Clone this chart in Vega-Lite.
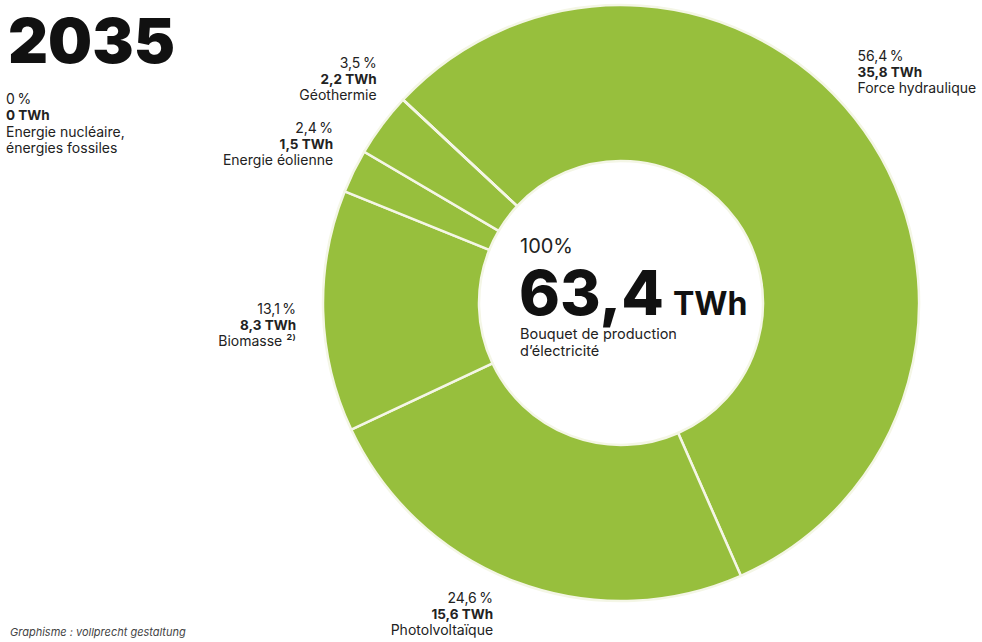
{
  "$schema": "https://vega.github.io/schema/vega-lite/v6.json",
  "width": 596,
  "height": 596,
  "autosize": {"type": "none"},
  "padding": {"left": 323, "top": 5, "right": 63, "bottom": 41},
  "background": "#ffffff",
  "title": {"text": "2035", "anchor": "start", "frame": "group", "fontSize": 62, "fontWeight": 900, "font": "Inter", "color": "#111111", "dx": -315, "dy": 80, "offset": 4},
  "data": {
    "values": [
      {"source": "Force hydraulique", "pct": 0.564, "twh": 35.8, "rank": 1},
      {"source": "Photolvoltaïque", "pct": 0.246, "twh": 15.6, "rank": 2},
      {"source": "Biomasse ²⁾", "pct": 0.131, "twh": 8.3, "rank": 3},
      {"source": "Energie éolienne", "pct": 0.024, "twh": 1.5, "rank": 4},
      {"source": "Géothermie", "pct": 0.035, "twh": 2.2, "rank": 5},
      {"source": "Energie nucléaire,\nénergies fossiles", "pct": 0, "twh": 0, "rank": 6}
    ]
  },
  "layer": [
    {
      "mark": {"type": "arc", "innerRadius": 142, "outerRadius": 298, "fill": "#97bf3d", "stroke": "#f4f6e6", "strokeWidth": 2.5},
      "encoding": {
        "theta": {"field": "twh", "type": "quantitative", "stack": true, "scale": {"range": [-0.8203, 5.4629]}},
        "order": {"field": "rank", "type": "quantitative"},
        "detail": {"field": "source", "type": "nominal"}
      }
    },
    {
      "mark": {"type": "text", "radius": 290, "align": "left", "baseline": "middle", "dy": -78, "fontSize": 14, "font": "Inter", "color": "#222222"},
      "encoding": {
        "theta": {"field": "twh", "type": "quantitative", "stack": true},
        "order": {"field": "rank", "type": "quantitative"},
        "detail": {"field": "source", "type": "nominal"},
        "text": {"field": "pct", "type": "quantitative", "format": ".1~%", "condition": {"test": "datum.rank !== 1", "value": ""}}
      }
    },
    {
      "mark": {"type": "text", "radius": 290, "align": "left", "baseline": "middle", "dy": -62, "fontSize": 13.5, "fontWeight": 700, "font": "Inter", "color": "#222222"},
      "encoding": {
        "theta": {"field": "twh", "type": "quantitative", "stack": true},
        "order": {"field": "rank", "type": "quantitative"},
        "detail": {"field": "source", "type": "nominal"},
        "text": {"field": "twh", "type": "quantitative", "format": "$.1~f", "condition": {"test": "datum.rank !== 1", "value": ""}}
      }
    },
    {
      "mark": {"type": "text", "radius": 290, "align": "left", "baseline": "middle", "dy": -46, "fontSize": 14, "font": "Inter", "color": "#222222"},
      "encoding": {
        "theta": {"field": "twh", "type": "quantitative", "stack": true},
        "order": {"field": "rank", "type": "quantitative"},
        "detail": {"field": "source", "type": "nominal"},
        "text": {"field": "source", "type": "nominal", "condition": {"test": "datum.rank !== 1", "value": ""}}
      }
    },
    {
      "mark": {"type": "text", "radius": 364, "align": "right", "baseline": "middle", "dy": -45, "fontSize": 14, "font": "Inter", "color": "#222222"},
      "encoding": {
        "theta": {"field": "twh", "type": "quantitative", "stack": true},
        "order": {"field": "rank", "type": "quantitative"},
        "detail": {"field": "source", "type": "nominal"},
        "text": {"field": "pct", "type": "quantitative", "format": ".1~%", "condition": {"test": "datum.rank !== 2", "value": ""}}
      }
    },
    {
      "mark": {"type": "text", "radius": 364, "align": "right", "baseline": "middle", "dy": -29, "fontSize": 13.5, "fontWeight": 700, "font": "Inter", "color": "#222222"},
      "encoding": {
        "theta": {"field": "twh", "type": "quantitative", "stack": true},
        "order": {"field": "rank", "type": "quantitative"},
        "detail": {"field": "source", "type": "nominal"},
        "text": {"field": "twh", "type": "quantitative", "format": "$.1~f", "condition": {"test": "datum.rank !== 2", "value": ""}}
      }
    },
    {
      "mark": {"type": "text", "radius": 364, "align": "right", "baseline": "middle", "dy": -13, "fontSize": 14, "font": "Inter", "color": "#222222"},
      "encoding": {
        "theta": {"field": "twh", "type": "quantitative", "stack": true},
        "order": {"field": "rank", "type": "quantitative"},
        "detail": {"field": "source", "type": "nominal"},
        "text": {"field": "source", "type": "nominal", "condition": {"test": "datum.rank !== 2", "value": ""}}
      }
    },
    {
      "mark": {"type": "text", "radius": 325, "align": "right", "baseline": "middle", "dy": -2, "fontSize": 14, "font": "Inter", "color": "#222222"},
      "encoding": {
        "theta": {"field": "twh", "type": "quantitative", "stack": true},
        "order": {"field": "rank", "type": "quantitative"},
        "detail": {"field": "source", "type": "nominal"},
        "text": {"field": "pct", "type": "quantitative", "format": ".1~%", "condition": {"test": "datum.rank !== 3", "value": ""}}
      }
    },
    {
      "mark": {"type": "text", "radius": 325, "align": "right", "baseline": "middle", "dy": 14, "fontSize": 13.5, "fontWeight": 700, "font": "Inter", "color": "#222222"},
      "encoding": {
        "theta": {"field": "twh", "type": "quantitative", "stack": true},
        "order": {"field": "rank", "type": "quantitative"},
        "detail": {"field": "source", "type": "nominal"},
        "text": {"field": "twh", "type": "quantitative", "format": "$.1~f", "condition": {"test": "datum.rank !== 3", "value": ""}}
      }
    },
    {
      "mark": {"type": "text", "radius": 325, "align": "right", "baseline": "middle", "dy": 30, "fontSize": 14, "font": "Inter", "color": "#222222"},
      "encoding": {
        "theta": {"field": "twh", "type": "quantitative", "stack": true},
        "order": {"field": "rank", "type": "quantitative"},
        "detail": {"field": "source", "type": "nominal"},
        "text": {"field": "source", "type": "nominal", "condition": {"test": "datum.rank !== 3", "value": ""}}
      }
    },
    {
      "mark": {"type": "text", "radius": 321, "align": "right", "baseline": "middle", "dy": -32, "fontSize": 14, "font": "Inter", "color": "#222222"},
      "encoding": {
        "theta": {"field": "twh", "type": "quantitative", "stack": true},
        "order": {"field": "rank", "type": "quantitative"},
        "detail": {"field": "source", "type": "nominal"},
        "text": {"field": "pct", "type": "quantitative", "format": ".1~%", "condition": {"test": "datum.rank !== 4", "value": ""}}
      }
    },
    {
      "mark": {"type": "text", "radius": 321, "align": "right", "baseline": "middle", "dy": -16, "fontSize": 13.5, "fontWeight": 700, "font": "Inter", "color": "#222222"},
      "encoding": {
        "theta": {"field": "twh", "type": "quantitative", "stack": true},
        "order": {"field": "rank", "type": "quantitative"},
        "detail": {"field": "source", "type": "nominal"},
        "text": {"field": "twh", "type": "quantitative", "format": "$.1~f", "condition": {"test": "datum.rank !== 4", "value": ""}}
      }
    },
    {
      "mark": {"type": "text", "radius": 321, "align": "right", "baseline": "middle", "dy": 0, "fontSize": 14, "font": "Inter", "color": "#222222"},
      "encoding": {
        "theta": {"field": "twh", "type": "quantitative", "stack": true},
        "order": {"field": "rank", "type": "quantitative"},
        "detail": {"field": "source", "type": "nominal"},
        "text": {"field": "source", "type": "nominal", "condition": {"test": "datum.rank !== 4", "value": ""}}
      }
    },
    {
      "mark": {"type": "text", "radius": 305, "align": "right", "baseline": "middle", "dy": -56, "fontSize": 14, "font": "Inter", "color": "#222222"},
      "encoding": {
        "theta": {"field": "twh", "type": "quantitative", "stack": true},
        "order": {"field": "rank", "type": "quantitative"},
        "detail": {"field": "source", "type": "nominal"},
        "text": {"field": "pct", "type": "quantitative", "format": ".1~%", "condition": {"test": "datum.rank !== 5", "value": ""}}
      }
    },
    {
      "mark": {"type": "text", "radius": 305, "align": "right", "baseline": "middle", "dy": -40, "fontSize": 13.5, "fontWeight": 700, "font": "Inter", "color": "#222222"},
      "encoding": {
        "theta": {"field": "twh", "type": "quantitative", "stack": true},
        "order": {"field": "rank", "type": "quantitative"},
        "detail": {"field": "source", "type": "nominal"},
        "text": {"field": "twh", "type": "quantitative", "format": "$.1~f", "condition": {"test": "datum.rank !== 5", "value": ""}}
      }
    },
    {
      "mark": {"type": "text", "radius": 305, "align": "right", "baseline": "middle", "dy": -24, "fontSize": 14, "font": "Inter", "color": "#222222"},
      "encoding": {
        "theta": {"field": "twh", "type": "quantitative", "stack": true},
        "order": {"field": "rank", "type": "quantitative"},
        "detail": {"field": "source", "type": "nominal"},
        "text": {"field": "source", "type": "nominal", "condition": {"test": "datum.rank !== 5", "value": ""}}
      }
    },
    {
      "transform": [{"filter": "datum.rank === 6"}],
      "mark": {"type": "text", "align": "left", "baseline": "middle", "dx": -615, "dy": -203, "fontSize": 14, "font": "Inter", "color": "#222222"},
      "encoding": {"text": {"field": "pct", "type": "quantitative", "format": ".1~%"}}
    },
    {
      "transform": [{"filter": "datum.rank === 6"}],
      "mark": {"type": "text", "align": "left", "baseline": "middle", "dx": -615, "dy": -187, "fontSize": 13.5, "fontWeight": 700, "font": "Inter", "color": "#222222"},
      "encoding": {"text": {"field": "twh", "type": "quantitative", "format": "$.1~f"}}
    },
    {
      "transform": [{"filter": "datum.rank === 6"}],
      "mark": {"type": "text", "align": "left", "baseline": "middle", "dx": -615, "dy": -170, "fontSize": 14, "lineHeight": 16, "lineBreak": "\n", "font": "Inter", "color": "#222222"},
      "encoding": {"text": {"field": "source", "type": "nominal"}}
    },
    {
      "transform": [{"aggregate": [{"op": "sum", "field": "pct", "as": "total_pct"}]}],
      "mark": {"type": "text", "align": "left", "baseline": "alphabetic", "dx": -101, "dy": -50, "fontSize": 20, "font": "Inter", "color": "#222222"},
      "encoding": {"text": {"value": "100%"}}
    },
    {
      "transform": [{"aggregate": [{"op": "sum", "field": "twh", "as": "total_twh"}]}],
      "mark": {"type": "text", "align": "left", "baseline": "alphabetic", "dx": -102, "dy": 12, "fontSize": 62, "fontWeight": 800, "font": "Inter", "color": "#111111"},
      "encoding": {"text": {"field": "total_twh", "type": "quantitative", "format": ".1f"}}
    },
    {
      "transform": [{"aggregate": [{"op": "sum", "field": "twh", "as": "total_twh"}]}],
      "mark": {"type": "text", "align": "left", "baseline": "alphabetic", "dx": 52, "dy": 12, "fontSize": 32, "fontWeight": 700, "font": "Inter", "color": "#111111"},
      "encoding": {"text": {"value": "TWh"}}
    },
    {
      "transform": [{"aggregate": [{"op": "sum", "field": "twh", "as": "total_twh"}]}],
      "mark": {"type": "text", "align": "left", "baseline": "alphabetic", "dx": -101, "dy": 36, "fontSize": 14.5, "lineHeight": 17, "lineBreak": "\n", "font": "Inter", "color": "#222222"},
      "encoding": {"text": {"value": "Bouquet de production\nd’électricité"}}
    },
    {
      "transform": [{"aggregate": [{"op": "count", "as": "n"}]}],
      "mark": {"type": "text", "align": "left", "baseline": "middle", "dx": -611, "dy": 330, "fontSize": 11, "fontStyle": "italic", "font": "Inter", "color": "#444444"},
      "encoding": {"text": {"value": "Graphisme : vollprecht gestaltung"}}
    }
  ],
  "config": {
    "view": {"stroke": null},
    "locale": {
      "number": {"decimal": ",", "thousands": " ", "grouping": [3], "currency": ["", " TWh"], "percent": "\u202f%"}
    }
  }
}
